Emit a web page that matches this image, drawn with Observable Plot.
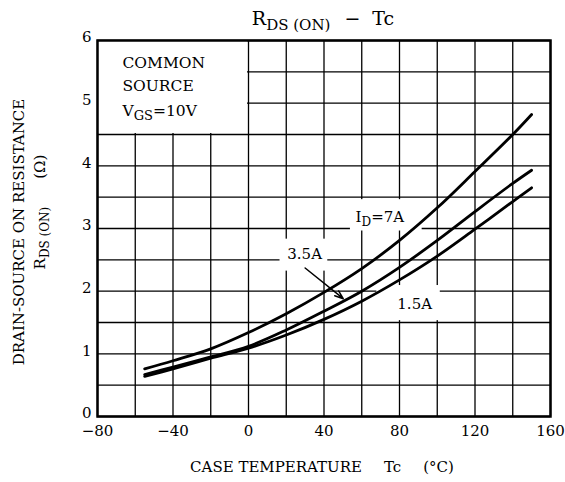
<!DOCTYPE html>
<html><head><meta charset="utf-8">
<script src="https://cdn.jsdelivr.net/npm/d3@7"></script>
<script src="https://cdn.jsdelivr.net/npm/@observablehq/plot@0.6"></script>
<style>body{margin:0;background:#fff} svg{display:block}</style>
</head><body><div id="chart"></div>
<script>
// Case temperature Tc (°C)
const temps = [-55, -40, -20, 0, 20, 40, 60, 80, 100, 120, 140, 150];
// RDS(ON) (Ω) for each drain current
const rId7  = [0.76, 0.89, 1.08, 1.34, 1.64, 1.98, 2.36, 2.81, 3.33, 3.91, 4.50, 4.82];
const rId35 = [0.67, 0.79, 0.95, 1.12, 1.38, 1.68, 2.00, 2.38, 2.81, 3.27, 3.72, 3.93];
const rId15 = [0.64, 0.76, 0.93, 1.09, 1.30, 1.55, 1.84, 2.18, 2.56, 2.99, 3.43, 3.65];
const seriesNames = ["7A", "3.5A", "1.5A"];
const xTicks = [-80, -40, 0, 40, 80, 120, 160];
const yTicks = [0, 1, 2, 3, 4, 5, 6];
const xGrid = d3.range(-80, 161, 20);
const yGrid = d3.range(0, 6.01, 0.5);

const rows = [];
[rId7, rId35, rId15].forEach((vals, k) =>
  temps.forEach((t, i) => rows.push({series: seriesNames[k], t, r: vals[i]})));

const font = "'DejaVu Serif', serif";
const plot = Plot.plot({
  width: 565, height: 482,
  marginLeft: 97, marginRight: 15, marginTop: 40, marginBottom: 66,
  style: {fontFamily: font, fontSize: "15px", color: "#000", background: "#fff"},
  x: {domain: [-80, 160]},
  y: {domain: [0, 6]},
  marks: [
    Plot.ruleX(xGrid, {stroke: "#000", strokeWidth: 1.3}),
    Plot.ruleY(yGrid, {stroke: "#000", strokeWidth: 1.3}),
    Plot.rect([0], {x1: -80, x2: 0, y1: 4.5, y2: 6, fill: "white", insetRight: 1, insetBottom: 1}),
    Plot.rect([0], {x1: 54, x2: 92, y1: 2.96, y2: 3.46, fill: "white"}),
    Plot.rect([0], {x1: 16.7, x2: 42, y1: 2.32, y2: 2.83, fill: "white"}),
    Plot.rect([0], {x1: 68, x2: 101.6, y1: 1.53, y2: 2.09, fill: "white"}),
    Plot.line(rows, {x: "t", y: "r", z: "series", curve: "catmull-rom", stroke: "#000", strokeWidth: 2.8}),
    Plot.arrow([0], {x1: 30, y1: 2.37, x2: 50.2, y2: 1.88, stroke: "#000", strokeWidth: 1.5, headLength: 9, headAngle: 40}),
    Plot.axisX({ticks: xTicks, tickSize: 0, tickPadding: 9, label: null,
      tickFormat: d => d < 0 ? "\u2212" + (-d) : String(d)}),
    Plot.axisY({ticks: yTicks, tickSize: 0, tickPadding: 6, label: null, dy: -3,
      tickFormat: d => String(d)}),
    Plot.frame({stroke: "#000", strokeWidth: 2.5})
  ]
});

const svg = d3.select(plot);
const X = v => plot.scale("x").apply(v);
const Y = v => plot.scale("y").apply(v);

function addText(parts, {x, y, size = 15, subSize, anchor = "start", rotate = 0}) {
  const t = svg.append("text")
    .attr("transform", `translate(${x},${y}) rotate(${rotate})`)
    .attr("text-anchor", anchor)
    .attr("font-family", font)
    .attr("font-size", size)
    .attr("fill", "#000");
  let shifted = 0;
  for (const p of parts) {
    const [str, kind, dx] = p;
    const ts = t.append("tspan").text(str);
    if (dx) ts.attr("dx", dx);
    if (kind === "sub") {
      const sz = subSize || Math.round(size * 0.82);
      const d = Math.round(size * 0.28);
      ts.attr("font-size", sz).attr("dy", d - shifted);
      shifted = d;
    } else {
      if (shifted) ts.attr("dy", -shifted);
      shifted = 0;
    }
  }
  return t;
}

// Title
addText([["R"], ["DS (ON)", "sub"], ["\u2212", null, 14], ["Tc", null, 12]], {x: 323, y: 25, size: 19, subSize: 15, anchor: "middle"});
// Legend box text
addText([["COMMON"]], {x: X(-66.5), y: Y(5.56), size: 15.5});
addText([["SOURCE"]], {x: X(-66.5), y: Y(5.18), size: 15.5});
addText([["V"], ["GS", "sub"], ["=10V"]], {x: X(-66.5), y: Y(4.79), size: 15.5});
// Curve labels
addText([["I"], ["D", "sub"], ["=7A"]], {x: X(57), y: Y(3.1)});
addText([["3.5A"]], {x: X(30), y: Y(2.51), anchor: "middle"});
addText([["1.5A"]], {x: X(88.3), y: Y(1.70), anchor: "middle"});
// Axis titles
addText([["CASE TEMPERATURE"], ["Tc", null, 22], ["(\u00B0C)", null, 22]], {x: 322, y: 472, size: 15, anchor: "middle"});
addText([["DRAIN-SOURCE ON RESISTANCE"]], {x: 24, y: 232, size: 15, anchor: "middle", rotate: -90});
addText([["R"], ["DS (ON)", "sub"], ["(\u03A9)", null, 28]], {x: 45, y: 212, size: 15, anchor: "middle", rotate: -90});

document.getElementById("chart").append(plot);
</script>
</body></html>
